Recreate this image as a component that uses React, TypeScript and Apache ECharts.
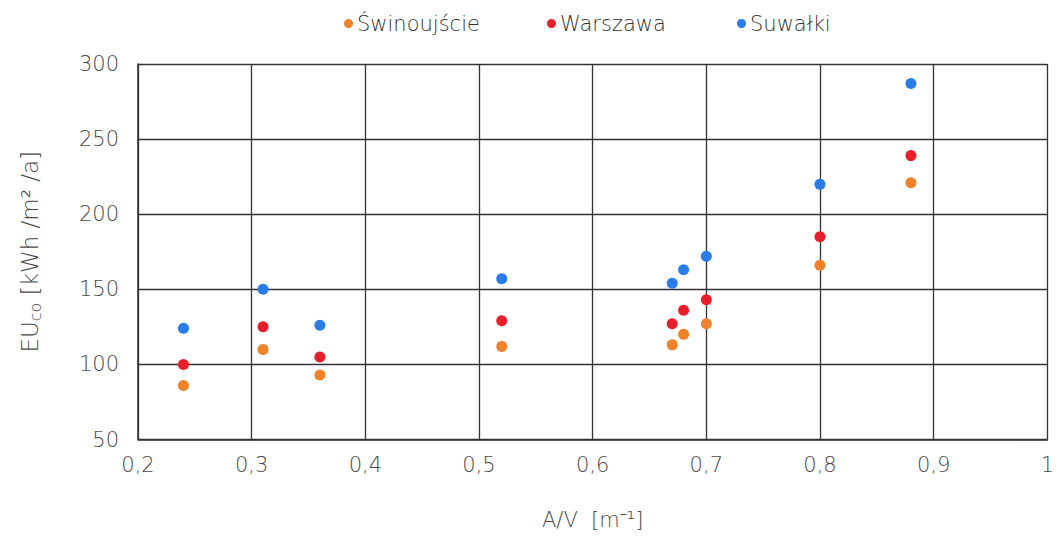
import React, { useEffect, useRef } from "react";
import * as echarts from "echarts";

// A/V ratio of the building variants
const ratioAV = [0.24, 0.31, 0.36, 0.52, 0.67, 0.68, 0.7, 0.8, 0.88];

// Final energy demand EU_co [kWh/m²/a] per climate location
const swinoujscie = [86, 110, 93, 112, 113, 120, 127, 166, 221];
const warszawa = [100, 125, 105, 129, 127, 136, 143, 185, 239];
const suwalki = [124, 150, 126, 157, 154, 163, 172, 220, 287];

const seriesNames = ["Świnoujście", "Warszawa", "Suwałki"];
const seriesColors = ["#f0822a", "#e81f2a", "#2a7de8"];

const FONT = "'DejaVu Sans', sans-serif";
const TEXT = "#4a4a4a";
const LIGHT = 200;

const pairs = (ys: number[]) => ratioAV.map((x, i) => [x, ys[i]]);

export default function App() {
  const ref = useRef<HTMLDivElement>(null);

  useEffect(() => {
    if (!ref.current) return;
    const chart = echarts.init(ref.current, undefined, { renderer: "svg" });
    const legendLefts = [339, 542, 732];
    chart.setOption({
      animation: false,
      backgroundColor: "#ffffff",
      textStyle: { fontFamily: FONT },
      legend: seriesNames.map((name, i) => ({
        data: [name],
        left: legendLefts[i],
        top: 8,
        icon: "circle",
        itemWidth: 9,
        itemHeight: 9,
        itemGap: 0,
        textStyle: {
          fontFamily: FONT,
          fontSize: 21,
          color: "#333",
          fontWeight: LIGHT,
          padding: [0, 0, 0, -1],
        },
      })),
      grid: { left: 138, right: 4, top: 64, bottom: 96.5 },
      xAxis: {
        type: "value",
        min: 0.2,
        max: 1,
        interval: 0.1,
        name: "A/V  [m⁻¹]",
        nameLocation: "middle",
        nameGap: 70,
        nameTextStyle: {
          fontFamily: FONT,
          fontSize: 21,
          color: TEXT,
          fontWeight: LIGHT,
        },
        axisLine: { show: true, lineStyle: { color: "#333", width: 1.5 } },
        axisTick: { show: false },
        splitLine: { show: true, lineStyle: { color: "#333", width: 1.3 } },
        axisLabel: {
          fontFamily: FONT,
          fontSize: 21,
          color: TEXT,
          fontWeight: LIGHT,
          margin: 15,
          formatter: (v: number) =>
            Math.abs(v - 1) < 1e-9 ? "1" : v.toFixed(1).replace(".", ","),
        },
      },
      yAxis: {
        type: "value",
        min: 50,
        max: 300,
        interval: 50,
        name: "{m|EU}{s|co}{m| [kWh /m² /a]}",
        nameLocation: "middle",
        nameGap: 95,
        nameRotate: 90,
        nameTextStyle: {
          fontFamily: FONT,
          color: TEXT,
          rich: {
            m: {
              fontFamily: FONT,
              fontSize: 23,
              color: TEXT,
              fontWeight: LIGHT,
            },
            s: {
              fontFamily: FONT,
              fontSize: 16,
              color: TEXT,
              fontWeight: LIGHT,
              verticalAlign: "bottom",
              padding: [10, 0, 0, 0],
            },
          },
        },
        axisLine: { show: true, lineStyle: { color: "#333", width: 1.5 } },
        axisTick: { show: false },
        splitLine: { show: true, lineStyle: { color: "#333", width: 1.3 } },
        axisLabel: {
          fontFamily: FONT,
          fontSize: 21,
          color: TEXT,
          fontWeight: LIGHT,
          margin: 19,
        },
      },
      series: [swinoujscie, warszawa, suwalki].map((ys, i) => ({
        name: seriesNames[i],
        type: "scatter",
        data: pairs(ys),
        symbol: "circle",
        symbolSize: 11,
        itemStyle: { color: seriesColors[i], opacity: 1 },
        z: 3 - i,
      })),
    });
    return () => chart.dispose();
  }, []);

  return (
    <div
      ref={ref}
      style={{ position: "fixed", left: 0, top: 0, width: 1057, height: 536 }}
    />
  );
}
